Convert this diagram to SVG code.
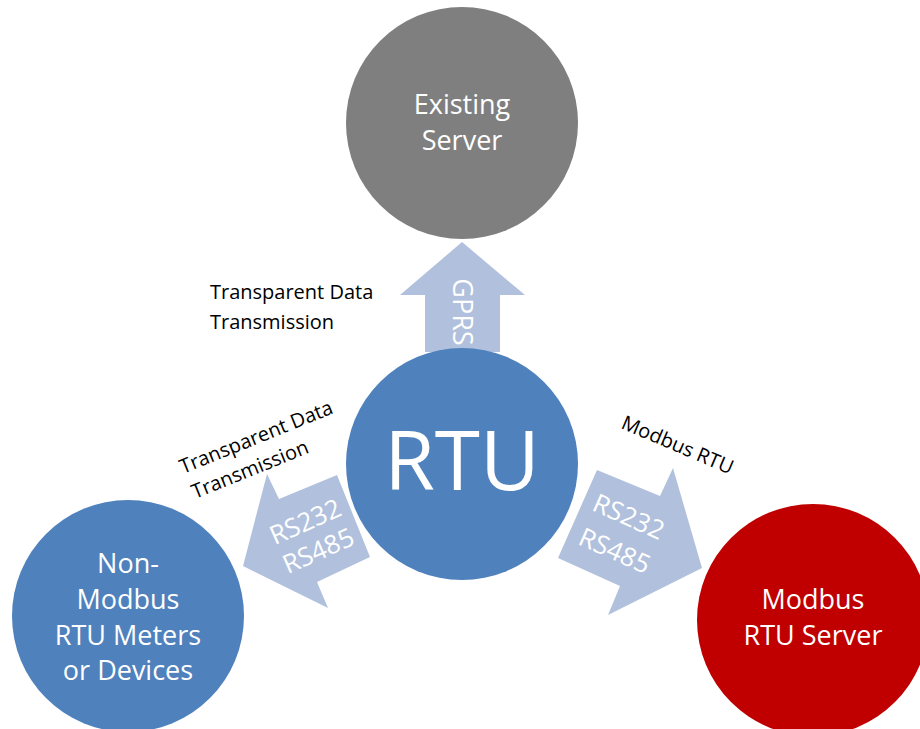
<svg xmlns="http://www.w3.org/2000/svg" width="920" height="729" viewBox="0 0 920 729">
<style>
.arrow{fill:#b1c1dd}
.node-text{font-family:"Open Sans","Noto Sans",sans-serif;fill:#ffffff;text-anchor:middle}
.label{font-family:"Open Sans","Noto Sans",sans-serif;fill:#000000;font-size:20px}
.arrow-text{font-family:"Open Sans","Noto Sans",sans-serif;fill:#ffffff;font-size:26px;text-anchor:middle}
</style>
<rect width="920" height="729" fill="#ffffff"/>
<g id="connectors">
  <g id="arrow-gprs">
    <polygon class="arrow" points="462,242 525,295 500,295 500,352 425,352 425,295 400,295"/>
    <text class="arrow-text" transform="translate(453,312) rotate(90)" style="font-size:27px">GPRS</text>
  </g>
  <g id="arrow-left">
    <polygon class="arrow" points="243,566 267,474 279,499 337,475 370,557 317,582 328,608"/>
    <text class="arrow-text" transform="translate(309,530) rotate(-24)">RS232</text>
    <text class="arrow-text" transform="translate(322,559) rotate(-24)">RS485</text>
  </g>
  <g id="arrow-right">
    <polygon class="arrow" points="597,470 660,496 673,468 702,568 608,615 620,586 558,558"/>
    <text class="arrow-text" transform="translate(625,525) rotate(24)">RS232</text>
    <text class="arrow-text" transform="translate(611,559) rotate(24)">RS485</text>
  </g>
</g>
<g id="label-top">
  <text class="label" x="210" y="299">Transparent Data</text>
  <text class="label" x="210" y="329">Transmission</text>
</g>
<g id="label-left">
  <text class="label" transform="translate(183,474) rotate(-22)">Transparent Data</text>
  <text class="label" transform="translate(195,499) rotate(-22)">Transmission</text>
</g>
<g id="label-right">
  <text class="label" transform="translate(620,428) rotate(23)">Modbus RTU</text>
</g>
<g id="node-existing-server">
  <circle cx="462" cy="123" r="116" fill="#7f7f7f"/>
  <text class="node-text" x="462" y="114" font-size="27">Existing</text>
  <text class="node-text" x="462" y="150" font-size="27">Server</text>
</g>
<g id="node-rtu">
  <circle cx="462" cy="464" r="116" fill="#4f81bd"/>
  <text class="node-text" x="462" y="490" font-size="82">RTU</text>
</g>
<g id="node-non-modbus">
  <circle cx="128" cy="616" r="116" fill="#4f81bd"/>
  <text class="node-text" x="128" y="573" font-size="27">Non-</text>
  <text class="node-text" x="128" y="609" font-size="27">Modbus</text>
  <text class="node-text" x="128" y="645" font-size="27">RTU Meters</text>
  <text class="node-text" x="128" y="680" font-size="27">or Devices</text>
</g>
<g id="node-modbus-server">
  <circle cx="813" cy="620" r="116" fill="#c00000"/>
  <text class="node-text" x="813" y="609" font-size="27">Modbus</text>
  <text class="node-text" x="813" y="645" font-size="27">RTU Server</text>
</g>
</svg>
